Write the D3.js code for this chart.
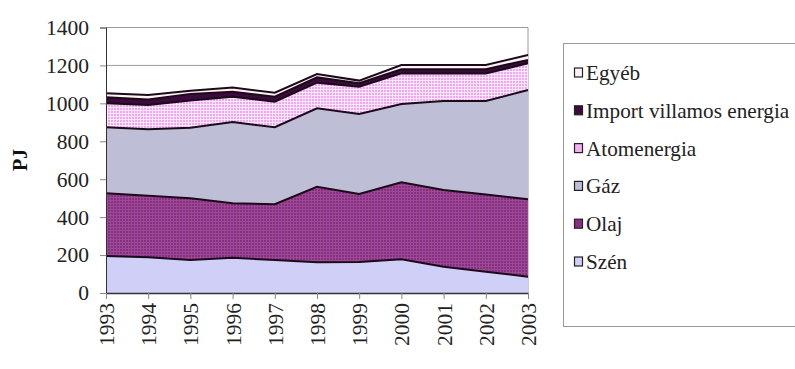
<!DOCTYPE html>
<html><head><meta charset="utf-8">
<script src="https://cdn.jsdelivr.net/npm/d3@7"></script>
<style>body{margin:0;background:#fff}svg{display:block}svg text{font-family:'Liberation Serif','DejaVu Serif',serif}</style>
</head><body><svg id="c" width="795" height="369"></svg>
<script>
const years = ["1993","1994","1995","1996","1997","1998","1999","2000","2001","2002","2003"];
const szen   = [195,188,174,186,174,162,163,178,139,112,86];
const olaj   = [331,325,325,287,294,398,359,406,404,408,408];
const gaz    = [348,350,373,429,406,414,422,413,469,492,576];
const atom   = [126,128,143,133,135,135,144,161,146,146,141];
const importV= [32,30,35,26,26,28,18,22,22,22,18];
const egyeb  = [21,23,17,22,21,18,14,22,22,22,26];
const yTicks = [0,200,400,600,800,1000,1200,1400];
const seriesNames = ["Szén","Olaj","Gáz","Atomenergia","Import villamos energia","Egyéb"];
const seriesVals = [szen,olaj,gaz,atom,importV,egyeb];
const FONT = "Liberation Serif, DejaVu Serif, serif";

const svg = d3.select("#c");
const defs = svg.append("defs");
function grid(id, bg, fg){
  const p = defs.append("pattern").attr("id",id).attr("width",3).attr("height",3).attr("patternUnits","userSpaceOnUse");
  p.append("rect").attr("width",3).attr("height",3).attr("fill",fg);
  p.append("rect").attr("width",2).attr("height",2).attr("fill",bg);
}
grid("pAtom","#f2a6f2","#fde8fd");
grid("pOlaj","#8a2c8a","#9a4c8e");
const fills = ["#cfcff7","url(#pOlaj)","#bebed6","url(#pAtom)","#3c0a3c","#fff2f2"];
const legendFills = ["#cfcff7","#8a2c8a","#bebed6","#f2b0f2","#3c0a3c","#fff2f2"];

const L=106,R=528,T=27.5,B=293;
const x = d3.scalePoint().domain(years).range([L,R]);
const y = d3.scaleLinear().domain([0,1400]).range([B,T]);

svg.append("g").selectAll("line").data(yTicks.filter(d=>d>0)).join("line")
  .attr("x1",L).attr("x2",R).attr("y1",d=>y(d)).attr("y2",d=>y(d))
  .attr("stroke","#9a9a9a").attr("stroke-width",1);
svg.append("line").attr("x1",R).attr("x2",R).attr("y1",T).attr("y2",B).attr("stroke","#9a9a9a");

const data = years.map((yr,i)=>{const o={year:yr}; seriesNames.forEach((n,k)=>o[n]=seriesVals[k][i]); return o;});
const stack = d3.stack().keys(seriesNames)(data);
const area = d3.area().x(d=>x(d.data.year)).y0(d=>y(d[0])).y1(d=>y(d[1]));
const line = d3.line().x(d=>x(d.data.year)).y(d=>y(d[1]));
svg.append("g").selectAll("path").data(stack).join("path")
  .attr("d",area).attr("fill",(d,i)=>fills[i]);
svg.append("g").selectAll("path").data(stack).join("path")
  .attr("d",line).attr("fill","none").attr("stroke","#1a0a1a").attr("stroke-width",2);

const ya = svg.append("g").attr("transform",`translate(${L},0)`)
  .call(d3.axisLeft(y).tickValues(yTicks).tickSize(6).tickPadding(11).tickFormat(d3.format("d")));
ya.attr("font-family",FONT);
ya.select(".domain").attr("stroke","#333");
ya.selectAll(".tick line").attr("stroke","#888");
ya.selectAll("text").style("font-family",FONT).attr("font-size",21.5).attr("fill","#222");

const xa = svg.append("g").attr("transform",`translate(0,${B})`)
  .call(d3.axisBottom(x).tickSize(6).tickSizeOuter(0));
xa.attr("font-family",FONT);
xa.select(".domain").attr("stroke","#333").attr("stroke-width",1.5);
xa.selectAll(".tick line").attr("stroke","#888");
xa.selectAll("text").style("font-family",FONT).attr("font-size",21.5).attr("fill","#222")
  .attr("transform","rotate(-90)").attr("text-anchor","end").attr("dy","0.35em").attr("x",-10).attr("y",0);

svg.append("text").attr("transform","translate(27,160) rotate(-90)").attr("text-anchor","middle")
  .style("font-family",FONT).attr("font-weight","bold").attr("font-size",20).attr("fill","#111").text("PJ");

svg.append("rect").attr("x",563.5).attr("y",43.5).attr("width",260).attr("height",283)
  .attr("fill","#fff").attr("stroke","#999");
const legendOrder = [5,4,3,2,1,0];
const lg = svg.append("g").selectAll("g").data(legendOrder).join("g")
  .attr("transform",(d,i)=>`translate(574,${72.5+i*37.8})`);
lg.append("rect").attr("x",0.5).attr("y",-4.5).attr("width",8).attr("height",9)
  .attr("fill",d=>legendFills[d]).attr("stroke","#222").attr("stroke-width",1.2);
lg.append("text").attr("x",12).attr("y",0).attr("dy","0.35em")
  .style("font-family",FONT).attr("font-size",21.2).attr("fill","#222")
  .text(d=>seriesNames[d]);
</script></body></html>
